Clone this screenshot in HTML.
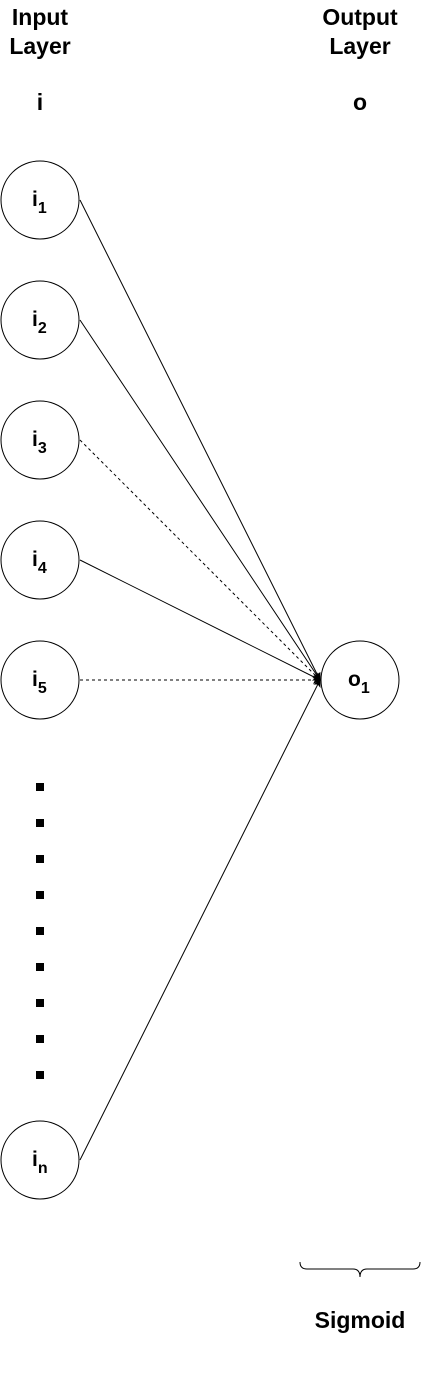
<!DOCTYPE html>
<html><head><meta charset="utf-8"><style>
html,body{margin:0;padding:0;background:#fff;}
svg{display:block;font-family:"Liberation Sans",Arial,sans-serif;}
</style></head><body>
<svg width="421" height="1380" viewBox="0 0 421 1380">
<defs><marker id="ah" markerWidth="8" markerHeight="8" refX="7" refY="4" orient="auto" markerUnits="userSpaceOnUse"><path d="M0,0 L8,4 L0,8 L2,4 Z" fill="#000"/></marker></defs>
<g font-weight="bold" font-size="23" text-anchor="middle" fill="#000">
<text x="40" y="25">Input</text>
<text x="40" y="54">Layer</text>
<text x="40" y="110">i</text>
<text x="360" y="25">Output</text>
<text x="360" y="54">Layer</text>
<text x="360" y="110">o</text>
<text x="360" y="1328">Sigmoid</text>
</g>
<g id="edges" stroke="#000" stroke-width="1" fill="none"></g>
<g id="nodes"></g>
<g id="dots" fill="#000"></g>
<path d="M300,1262 Q300,1269 307,1269 L353,1269 Q360,1269 360,1277 Q360,1269 367,1269 L413,1269 Q420,1269 420,1262" stroke="#000" fill="none"/>
</svg>
<script>
const inputLabels=["1","2","3","4","5","n"];
const inputY=[200,320,440,560,680,1160];
const dashed=[false,false,true,false,true,false];
const dotY=[787,823,859,895,931,967,1003,1039,1075];
const NS="http://www.w3.org/2000/svg";
const edges=document.getElementById('edges'),nodes=document.getElementById('nodes'),dots=document.getElementById('dots');
function node(cx,cy,base,sub,name,off){
 const c=document.createElementNS(NS,'circle');
 c.setAttribute('cx',cx);c.setAttribute('cy',cy);c.setAttribute('r',39);
 c.setAttribute('fill','#fff');c.setAttribute('stroke','#000');
 
 
 nodes.appendChild(c);
 const t=document.createElementNS(NS,'text');
 t.setAttribute('x',cx-off);t.setAttribute('y',cy+6);t.setAttribute('font-size','21');t.setAttribute('font-weight','bold');
 t.innerHTML=base+'<tspan font-size="16" dy="7">'+sub+'</tspan>';
 
 
 nodes.appendChild(t);
}
inputY.forEach((y,i)=>{
 const l=document.createElementNS(NS,'line');
 l.setAttribute('x1',80);l.setAttribute('y1',y);l.setAttribute('x2',320);l.setAttribute('y2',680);
 if(dashed[i])l.setAttribute('stroke-dasharray','3,3');
 l.setAttribute('marker-end','url(#ah)');
 
 
 edges.appendChild(l);
 node(40,y,'i',inputLabels[i],'input-node-'+inputLabels[i],8);
});
node(360,680,'o','1','output-node-1',12);
dotY.forEach(y=>{
 const r=document.createElementNS(NS,'rect');
 r.setAttribute('x',36);r.setAttribute('y',y-4);r.setAttribute('width',8);r.setAttribute('height',8);
 
 
 dots.appendChild(r);
});
</script>
</body></html>
